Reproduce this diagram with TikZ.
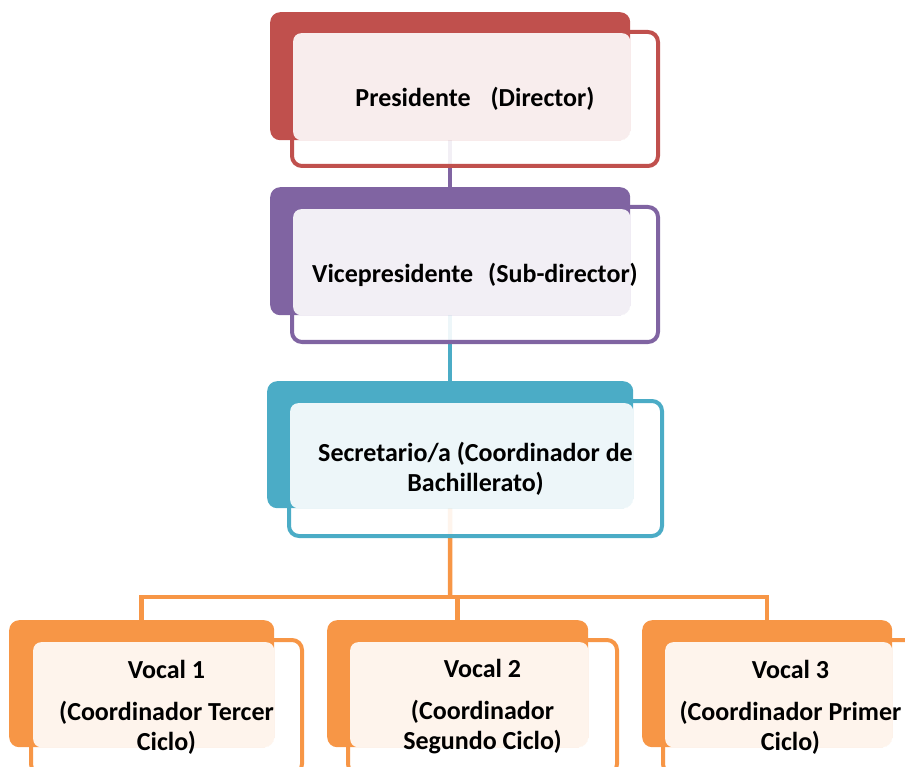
\documentclass[tikz,border=0pt]{standalone}
\usepackage{fontspec}
\setmainfont{Carlito}
\usetikzlibrary{backgrounds}
\definecolor{presred}{HTML}{C0504D}
\definecolor{vicepurple}{HTML}{8064A2}
\definecolor{secteal}{HTML}{4BACC6}
\definecolor{vocorange}{HTML}{F79646}
\begin{document}
\begin{tikzpicture}[x=1pt,y=-1pt]
\tikzstyle{boxrim}=[rectangle,rounded corners=10pt,anchor=north west,inner sep=0pt,line width=4pt,fill=white,fill opacity=0.9,draw opacity=1]
\tikzstyle{boxback}=[rectangle,rounded corners=10pt,anchor=north west,inner sep=0pt,draw=none]
\tikzstyle{boxtint}=[rectangle,rounded corners=8pt,anchor=north west,inner sep=0pt,fill=white,fill opacity=0.9]
\tikzstyle{boxtxt}=[font=\bfseries\fontsize{26}{30}\selectfont,align=center,inner sep=0pt]
\tikzstyle{wire}=[line width=4.5pt]
\path[use as bounding box,clip] (0,0) rectangle (905,767);
% ========= president
\node (presrim) at (290,30) [boxrim, draw=presred, minimum width=366pt, minimum height=134pt] {};
\node (pres) at (270,12) [boxback, fill=presred, minimum width=360pt, minimum height=128pt] {};
\node (prestint) at (293,33) [boxtint, minimum width=337pt, minimum height=107pt] {};
\node (prestxt) at (presrim.center) [boxtxt] {Presidente\hspace{20pt}(Director)};
% ========= vice president
\node (vicerim) at (290,205) [boxrim, draw=vicepurple, minimum width=366pt, minimum height=135pt] {};
\node (vice) at (270,187) [boxback, fill=vicepurple, minimum width=360pt, minimum height=128pt] {};
\node (vicetint) at (293,209) [boxtint, minimum width=337pt, minimum height=106pt] {};
\node (vicetxt) at (vicerim.center) [boxtxt] {Vicepresidente\hspace{15pt}(Sub-director)};
% ========= secretary
\node (secrrim) at (287,399) [boxrim, draw=secteal, minimum width=373pt, minimum height=135pt] {};
\node (secr) at (267,381) [boxback, fill=secteal, minimum width=366pt, minimum height=127pt] {};
\node (secrtint) at (290,403) [boxtint, minimum width=343pt, minimum height=105pt] {};
\node (secrtxt) at (secrrim.center) [boxtxt] {Secretario/a (Coordinador de\\Bachillerato)};
% ========= vocals
\node (voc1rim) at (29,638) [boxrim, draw=vocorange, minimum width=271pt, minimum height=134pt] {};
\node (voc1) at (9,620) [boxback, fill=vocorange, minimum width=265pt, minimum height=127pt] {};
\node (voc1tint) at (33,642) [boxtint, minimum width=241pt, minimum height=105pt] {};
\node (voc1txt) at (voc1rim.center) [boxtxt] {Vocal 1\\[12pt](Coordinador Tercer\\Ciclo)};

\node (voc2rim) at (346,638) [boxrim, draw=vocorange, minimum width=269pt, minimum height=134pt] {};
\node (voc2) at (327,620) [boxback, fill=vocorange, minimum width=261pt, minimum height=127pt] {};
\node (voc2tint) at (350,642) [boxtint, minimum width=238pt, minimum height=105pt] {};
\node (voc2txt) at (voc2rim.center) [boxtxt] {Vocal 2\\[12pt](Coordinador\\Segundo Ciclo)};

\node (voc3rim) at (661,638) [boxrim, draw=vocorange, minimum width=255pt, minimum height=134pt] {};
\node (voc3) at (642,620) [boxback, fill=vocorange, minimum width=250pt, minimum height=127pt] {};
\node (voc3tint) at (665,642) [boxtint, minimum width=227pt, minimum height=105pt] {};
\node (voc3txt) at (voc3rim.center) [boxtxt] {Vocal 3\\[12pt](Coordinador Primer\\Ciclo)};
% ====== connections
\begin{scope}[on background layer]
\draw [wire, vicepurple] (pres.south) -- (vice.north);
\draw [wire, secteal] (vice.south) -- (secr.north);
\coordinate (fork) at (450,597);
\draw [wire, vocorange] (secr.south) -- (fork);
\draw [wire, vocorange] (fork) -| (voc1.north);
\draw [wire, vocorange] (fork) -| (voc2.north);
\draw [wire, vocorange] (fork) -| (voc3.north);
\end{scope}
\end{tikzpicture}
\end{document}
